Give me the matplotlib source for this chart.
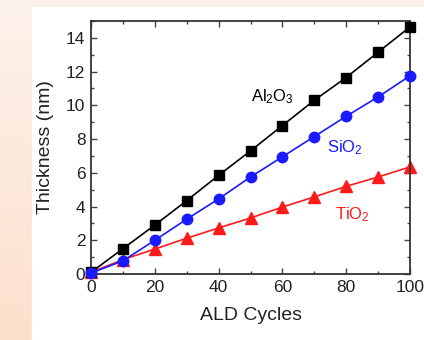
import numpy as np
import matplotlib
matplotlib.use("Agg")
import matplotlib.pyplot as plt
from matplotlib.patches import Rectangle
from matplotlib.ticker import MultipleLocator

plt.rcParams['font.family'] = ['Liberation Sans', 'DejaVu Sans']
plt.rcParams['mathtext.default'] = 'regular'

cycles = [0, 10, 20, 30, 40, 50, 60, 70, 80, 90, 100]
al2o3 = [0.1, 1.5, 2.9, 4.35, 5.85, 7.3, 8.8, 10.3, 11.65, 13.15, 14.65]
sio2 = [0.05, 0.78, 2.0, 3.25, 4.45, 5.75, 6.95, 8.15, 9.35, 10.5, 11.75]
tio2 = [0.1, 0.85, 1.48, 2.12, 2.73, 3.32, 3.97, 4.57, 5.2, 5.75, 6.35]

fig = plt.figure(figsize=(4.24, 3.4), dpi=100)

# background gradient
bg = fig.add_axes([0, 0, 1, 1], zorder=-10)
bg.set_axis_off()
top = np.array([253, 242, 235]) / 255
bot = np.array([252, 224, 204]) / 255
t = np.linspace(0, 1, 200)[:, None]
grad = (top[None, :] * (1 - t) + bot[None, :] * t)[:, None, :]
grad = np.repeat(grad, 2, axis=1)
bg.imshow(grad, aspect='auto', extent=[0, 1, 0, 1], origin='upper')
bg.add_patch(Rectangle((32 / 424, 0), 1, (340 - 7) / 340, color='white', transform=bg.transAxes))
bg.set_xlim(0, 1)
bg.set_ylim(0, 1)

ax = fig.add_axes([91 / 424, 66 / 340, (410 - 91) / 424, (274 - 21) / 340])
ax.plot(cycles, al2o3, color='black', marker='s', ms=6.5, lw=1.2, clip_on=False, zorder=3)
ax.plot(cycles, sio2, color='#1a1aff', marker='o', ms=7.5, lw=1.2, clip_on=False, zorder=4)
ax.plot(cycles, tio2, color='#ff1a1a', marker='^', ms=8, lw=1.2, clip_on=False, zorder=2)

ax.set_xlim(0, 100)
ax.set_ylim(0, 15)
ax.xaxis.set_major_locator(MultipleLocator(20))
ax.xaxis.set_minor_locator(MultipleLocator(10))
ax.yaxis.set_major_locator(MultipleLocator(2))
ax.yaxis.set_minor_locator(MultipleLocator(1))
ax.tick_params(which='both', direction='in', top=True, right=True, labelsize=12.5,
               color='#444444', labelcolor='#222222')
ax.tick_params(which='major', length=4, width=1, pad=4)
ax.tick_params(which='minor', length=2.5, width=1)
for s in ax.spines.values():
    s.set_linewidth(1.3)
    s.set_color('#333333')

ax.set_xlabel('ALD Cycles', fontsize=14, labelpad=9, color='#222222')
ax.set_ylabel('Thickness (nm)', fontsize=14, labelpad=9, color='#222222')

ax.text(57, 10.5, 'Al$_2$O$_3$', fontsize=12, color='black', ha='center', va='center')
ax.text(79.5, 7.5, 'SiO$_2$', fontsize=12, color='#1a1aff', ha='center', va='center')
ax.text(82, 3.5, 'TiO$_2$', fontsize=12, color='#ff1a1a', ha='center', va='center')

fig.savefig('out.png', dpi=100)
